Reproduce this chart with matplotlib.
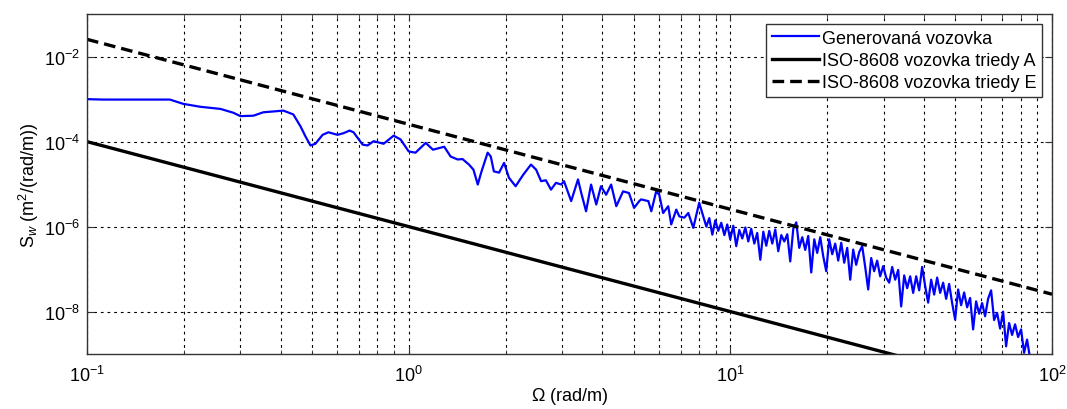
import numpy as np
import matplotlib
matplotlib.use("Agg")
from matplotlib import pyplot as plt
from matplotlib.ticker import LogLocator, NullFormatter

# Omega (rad/m) and log10 of S_w (generated road)
omega_gen = [0.100, 0.112, 0.181, 0.199, 0.225, 0.260, 0.285, 0.300, 0.329, 0.353,
             0.408, 0.438, 0.461, 0.478, 0.495, 0.513, 0.540, 0.563, 0.601, 0.628,
             0.655, 0.674, 0.719, 0.745, 0.778, 0.836, 0.898, 0.944, 1.00, 1.05,
             1.13, 1.19, 1.29, 1.35, 1.42, 1.47, 1.54, 1.59, 1.64, 1.68,
             1.76, 1.80, 1.84, 1.91, 1.98, 2.05, 2.15, 2.27, 2.40, 2.49,
             2.58, 2.67, 2.77, 2.87, 2.98, 3.04, 3.20, 3.36, 3.44, 3.56,
             3.69, 3.83, 3.96, 4.11, 4.26, 4.42, 4.64, 4.84, 5.02, 5.21,
             5.28, 5.56, 5.68, 5.88, 6.01, 6.18, 6.41, 6.55, 6.79, 6.94,
             7.19, 7.40, 7.67, 8.00,
             8.24, 8.42, 8.60, 8.79, 8.98, 9.17, 9.37, 9.58, 9.78, 9.99,
             10.21, 10.43, 10.66, 10.89, 11.13, 11.37, 11.61, 11.87, 12.12, 12.39,
             12.66, 12.93, 13.21, 13.50, 13.79, 14.09, 14.40, 14.71, 15.03, 15.35,
             15.69, 16.03, 16.37, 16.73, 17.09, 17.46, 17.84, 18.23, 18.62, 19.03,
             19.44, 19.86, 20.29, 20.73, 21.18, 21.64, 22.11, 22.59, 23.08, 23.58,
             24.09, 24.61, 25.15, 25.69, 26.25, 26.82, 27.40, 27.99, 28.60, 29.22,
             29.86, 30.50, 31.17, 31.84, 32.53, 33.24, 33.96, 34.70, 35.45, 36.22,
             37.00, 37.81, 38.63, 39.46, 40.32, 41.19, 42.09, 43.00, 43.93, 44.88,
             45.86, 46.85, 47.87, 48.91, 49.97, 51.05, 52.16, 53.29, 54.44, 55.62,
             56.83, 58.06, 59.32, 60.61, 61.92, 63.27, 64.64, 66.04, 67.47, 68.94,
             70.43, 71.96, 73.52, 75.11, 76.74, 78.41, 80.11, 81.84, 83.62, 85.43]
logS_gen = [-3.00, -3.01, -3.01, -3.11, -3.18, -3.23, -3.32, -3.40, -3.39, -3.31,
            -3.27, -3.36, -3.64, -3.88, -4.09, -4.05, -3.84, -3.78, -3.84, -3.80,
            -3.74, -3.78, -4.07, -4.09, -3.99, -4.05, -3.86, -3.95, -4.23, -4.26,
            -4.03, -4.19, -4.12, -4.35, -4.42, -4.41, -4.54, -4.66, -5.01, -4.73,
            -4.26, -4.35, -4.70, -4.73, -4.50, -4.85, -5.05, -4.78, -4.54, -4.66,
            -4.93, -4.91, -5.13, -4.97, -5.01, -4.93, -5.40, -4.89, -5.21, -5.64,
            -5.01, -5.48, -5.05, -5.25, -5.01, -5.52, -5.17, -5.21, -5.56, -5.40,
            -5.36, -5.40, -5.64, -5.17, -5.25, -5.68, -5.52, -5.95, -5.60, -5.76,
            -5.79, -5.68, -6.03, -5.44,
            -5.76, -6.00, -5.80, -6.19, -5.85, -6.10, -5.91, -6.20, -5.95, -6.30,
            -5.98, -6.46, -6.08, -6.28, -6.02, -6.35, -6.05, -6.40, -6.15, -6.78,
            -6.12, -6.45, -6.10, -6.40, -6.07, -6.58, -6.20, -6.35, -6.18, -6.82,
            -6.05, -5.90, -6.50, -6.25, -6.55, -6.22, -7.08, -6.30, -6.62, -6.25,
            -6.70, -7.05, -6.30, -6.65, -6.40, -6.80, -6.38, -6.85, -6.50, -7.25,
            -6.54, -6.90, -6.60, -6.46, -6.95, -7.48, -6.74, -7.05, -6.80, -7.17,
            -6.93, -7.20, -7.32, -6.95, -7.25, -7.02, -7.88, -7.15, -7.45, -7.17,
            -7.56, -7.17, -7.50, -6.95, -7.40, -7.79, -7.25, -7.60, -7.20, -7.56,
            -7.32, -7.70, -7.35, -7.80, -8.19, -7.48, -7.85, -7.55, -7.90, -7.68,
            -8.42, -7.76, -8.05, -7.80, -8.11, -7.70, -7.50, -8.20, -8.03, -8.40,
            -8.00, -8.82, -8.27, -8.55, -8.30, -8.60, -8.42, -8.97, -8.66, -9.10]

# ISO-8608 reference spectra, S = S0 * (Omega / Omega0)^-w
omega_iso = [0.1, 100.0]
S0_A = 1e-4       # class A at Omega0 = 0.1
S0_E = 2.56e-2    # class E at Omega0 = 0.1
waviness = 2.0

plt.rcParams['font.family'] = ['Liberation Sans', 'DejaVu Sans']
plt.rcParams['mathtext.fontset'] = 'custom'
plt.rcParams['mathtext.rm'] = 'Liberation Sans'
plt.rcParams['mathtext.it'] = 'Liberation Sans:italic'

fig = plt.figure(figsize=(10.67, 4.10), dpi=100)
ax = fig.add_axes([0.0815, 0.134, 0.9045, 0.829])

om = np.array(omega_iso)
ax.loglog(omega_gen, 10.0 ** np.array(logS_gen), color='#0000ff', lw=1.6,
          label='Generovaná vozovka')
ax.loglog(om, S0_A * (om / omega_iso[0]) ** -waviness, color='k', lw=2.4,
          label='ISO-8608 vozovka triedy A')
ax.loglog(om, S0_E * (om / omega_iso[0]) ** -waviness, color='k', lw=2.4,
          ls=(0, (3.5, 1.8)), label='ISO-8608 vozovka triedy E')

ax.set_xlim(0.1, 100)
ax.set_ylim(1e-9, 1e-1)
ax.yaxis.set_major_locator(LogLocator(base=100.0, numticks=10))
ax.yaxis.set_minor_locator(LogLocator(base=10.0, subs=(1.0,), numticks=20))
ax.yaxis.set_minor_formatter(NullFormatter())
ax.xaxis.set_minor_locator(LogLocator(base=10.0, subs=np.arange(2, 10), numticks=20))
ax.xaxis.set_minor_formatter(NullFormatter())

gl = dict(color='k', lw=0.8, ls=(0, (2.5, 3.5)))
ax.grid(True, which='major', axis='both', **gl)
ax.grid(True, which='minor', axis='x', **gl)
ax.tick_params(which='both', direction='in', top=True, right=True,
               labelsize=13, colors='#333333', labelcolor='k')
ax.tick_params(which='major', length=5)
ax.tick_params(axis='x', which='major', pad=8)
ax.tick_params(axis='y', which='major', pad=5)
ax.tick_params(which='minor', length=3)
ax.tick_params(axis='y', which='minor', length=0)
for s in ax.spines.values():
    s.set_color('#333333')
    s.set_linewidth(1.0)

ax.set_xlabel(r'$\Omega$ (rad/m)', fontsize=13, labelpad=0)
ax.set_ylabel(r'S$_w$ (m$^2$/(rad/m))', fontsize=13, labelpad=2)

leg = ax.legend(loc='upper right', fontsize=13, fancybox=False, framealpha=1,
                edgecolor='#333333', handlelength=2.6, handletextpad=0.2,
                labelspacing=0.3, borderpad=0.3, borderaxespad=0.55)
leg.get_frame().set_linewidth(1.0)

fig.savefig('out.png', dpi=100)
